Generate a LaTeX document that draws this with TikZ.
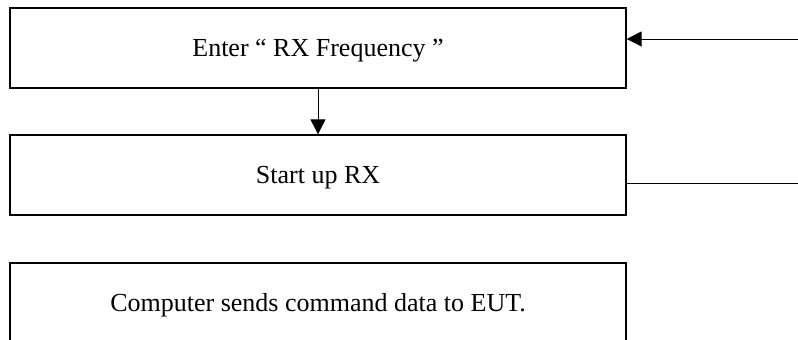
\documentclass[tikz,border=0pt]{standalone}
\usepackage{fontspec}
\setmainfont{Liberation Serif}
\usetikzlibrary{arrows.meta}
\begin{document}
\begin{tikzpicture}[x=1pt,y=1pt,
  stepbox/.style={draw, line width=1.3pt, minimum width=616pt, minimum height=80pt,
    inner sep=0pt, font=\fontsize{26}{30}\selectfont, text height=18pt, text depth=0pt},
  conn/.style={line width=0.9pt},
  arr/.style={conn, -{Triangle[length=15pt,width=15pt]}}]
\clip (0,0) rectangle (798,340);
\node[stepbox] (b1) at (318,292) {Enter “ RX Frequency ”};
\node[stepbox] (b2) at (318,165) {Start up RX};
\node[stepbox] (b3) at (318,37) {Computer sends command data to EUT.};
\coordinate (in1) at (798,301);
\coordinate (out2) at (798,157);
\draw[arr] (in1) -- (b1.east |- in1);
\draw[arr] (b1) -- (b2);
\draw[conn] (b2.east |- out2) -- (out2);
\end{tikzpicture}
\end{document}
